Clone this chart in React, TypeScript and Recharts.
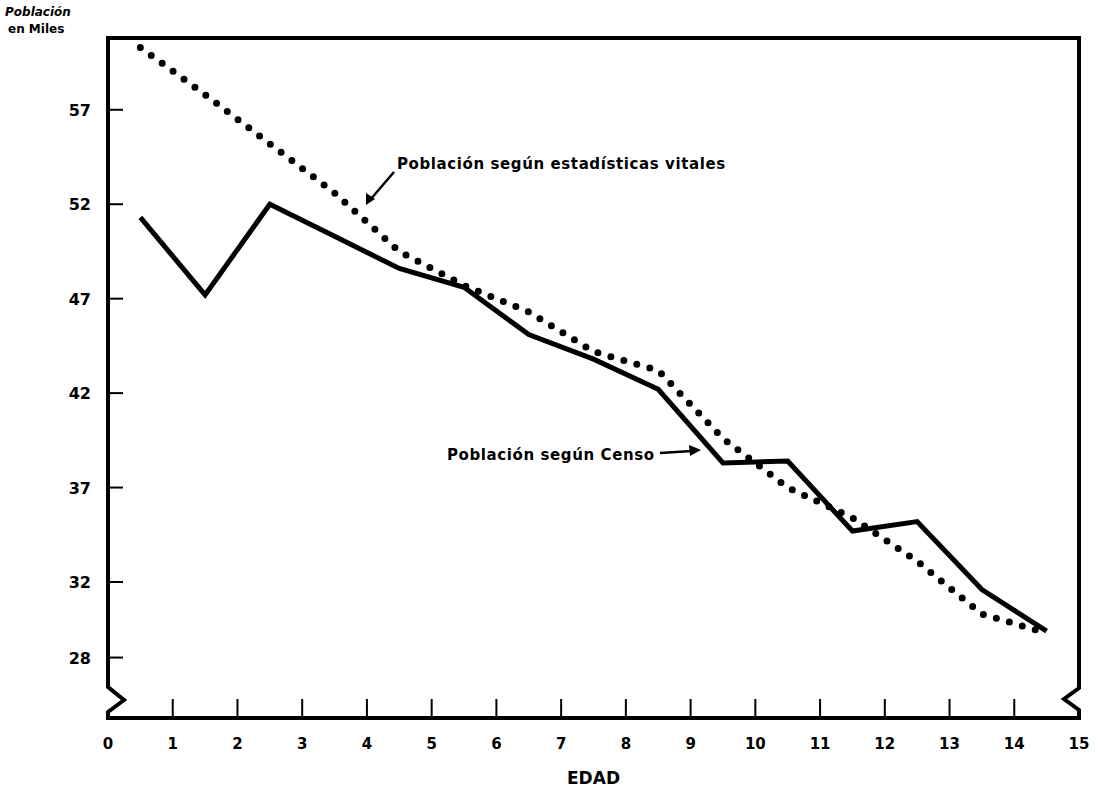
import { LineChart, Line, XAxis, YAxis } from "recharts";

// ---------------------------------------------------------------------------
// Data (población en miles, por edad simple)
// ---------------------------------------------------------------------------

const EDADES = [0.5, 1.5, 2.5, 3.5, 4.5, 5.5, 6.5, 7.5, 8.5, 9.5, 10.5, 11.5, 12.5, 13.5, 14.5];

const CENSO = [51.3, 47.2, 52.0, 50.3, 48.6, 47.6, 45.1, 43.8, 42.2, 38.3, 38.4, 34.7, 35.2, 31.6, 29.4];

const VITALES = [60.3, 57.8, 55.2, 52.6, 49.5, 47.7, 46.3, 44.2, 43.2, 39.6, 37.0, 35.4, 33.1, 30.3, 29.3];

const X_TICKS = [0, 1, 2, 3, 4, 5, 6, 7, 8, 9, 10, 11, 12, 13, 14, 15];
const Y_TICKS = [28, 32, 37, 42, 47, 52, 57];

const data = EDADES.map((edad, i) => ({
  edad,
  censo: CENSO[i],
  vitales: VITALES[i],
}));

// ---------------------------------------------------------------------------
// Layout
// ---------------------------------------------------------------------------

const W = 1099;
const H = 794;
const PLOT = { left: 108, top: 38, right: 1079, bottom: 718 };
const FONT = "'DejaVu Sans', sans-serif";

function YTick(props: any) {
  const { y, payload } = props;
  const x = PLOT.left;
  return (
    <g>
      <line x1={x} x2={x + 15} y1={y} y2={y} stroke="#000" strokeWidth={2} />
      <text
        x={x - 17}
        y={y}
        dy={6}
        textAnchor="end"
        fontFamily={FONT}
        fontWeight="bold"
        fontSize={16}
        fill="#000"
      >
        {payload.value}
      </text>
    </g>
  );
}

function XTick(props: any) {
  const { x, payload } = props;
  const y = PLOT.bottom;
  const inner = payload.value > 0 && payload.value < 15;
  return (
    <g>
      {inner && <line x1={x} x2={x} y1={y} y2={y - 19} stroke="#000" strokeWidth={2} />}
      <text
        x={x}
        y={y + 31}
        textAnchor="middle"
        fontFamily={FONT}
        fontWeight="bold"
        fontSize={15}
        fill="#000"
      >
        {payload.value}
      </text>
    </g>
  );
}

// frame with axis-break marks near the bottom
const L = PLOT.left;
const R = PLOT.right;
const T = PLOT.top;
const B = PLOT.bottom;
const framePath = [
  `M${L},${T}`,
  `L${R},${T}`,
  `L${R},${B - 30}`,
  `L${R - 15},${B - 19}`,
  `L${R},${B - 8}`,
  `L${R},${B}`,
  `L${L},${B}`,
  `L${L},${B - 6}`,
  `L${L + 16},${B - 18}`,
  `L${L},${B - 31}`,
  "Z",
].join(" ");

export default function App() {
  return (
    <div style={{ position: "absolute", left: 0, top: 0, width: W, height: H, background: "#fff" }}>
      <LineChart
        width={W}
        height={H}
        data={data}
        margin={{ top: PLOT.top, right: W - PLOT.right, bottom: 0, left: 0 }}
      >
        <XAxis
          type="number"
          dataKey="edad"
          domain={[0, 15]}
          ticks={X_TICKS}
          interval={0}
          height={H - PLOT.bottom}
          axisLine={false}
          tickLine={false}
          tickSize={0}
          tickMargin={0}
          tick={<XTick />}
        />
        <YAxis
          type="number"
          domain={[24.8, 60.8]}
          ticks={Y_TICKS}
          interval={0}
          width={PLOT.left}
          axisLine={false}
          tickLine={false}
          tickSize={0}
          tickMargin={0}
          tick={<YTick />}
          allowDataOverflow
        />
        <Line
          type="linear"
          dataKey="vitales"
          stroke="#000"
          strokeWidth={7}
          strokeDasharray="0 13.5"
          strokeLinecap="round"
          dot={false}
          activeDot={false}
          isAnimationActive={false}
        />
        <Line
          type="linear"
          dataKey="censo"
          stroke="#000"
          strokeWidth={5}
          dot={false}
          activeDot={false}
          isAnimationActive={false}
        />
      </LineChart>

      <svg
        width={W}
        height={H}
        style={{ position: "absolute", left: 0, top: 0, pointerEvents: "none" }}
      >
        <path d={framePath} fill="none" stroke="#000" strokeWidth={4} strokeLinejoin="miter" />

        <text x={5} y={16} fontFamily={FONT} fontWeight="bold" fontStyle="italic" fontSize={12}>
          Población
        </text>
        <text x={8} y={33} fontFamily={FONT} fontWeight="bold" fontSize={12}>
          en Miles
        </text>

        {/* estadísticas vitales */}
        <line x1={394} y1={172} x2={370} y2={200} stroke="#000" strokeWidth={2.5} />
        <polygon points="366,205 366,193 375,199" fill="#000" />
        <text
          x={397}
          y={169}
          fontFamily={FONT}
          fontWeight="bold"
          fontSize={15}
          letterSpacing={0.6}
        >
          Población según estadísticas vitales
        </text>

        {/* censo */}
        <text
          x={447}
          y={460}
          fontFamily={FONT}
          fontWeight="bold"
          fontSize={15}
          letterSpacing={0.6}
        >
          Población según Censo
        </text>
        <line x1={660} y1={453} x2={692} y2={451} stroke="#000" strokeWidth={2.5} />
        <polygon points="701,450 689,445 690,456" fill="#000" />

        <text
          x={(PLOT.left + PLOT.right) / 2}
          y={784}
          textAnchor="middle"
          fontFamily={FONT}
          fontWeight="bold"
          fontSize={17}
        >
          EDAD
        </text>
      </svg>
    </div>
  );
}
